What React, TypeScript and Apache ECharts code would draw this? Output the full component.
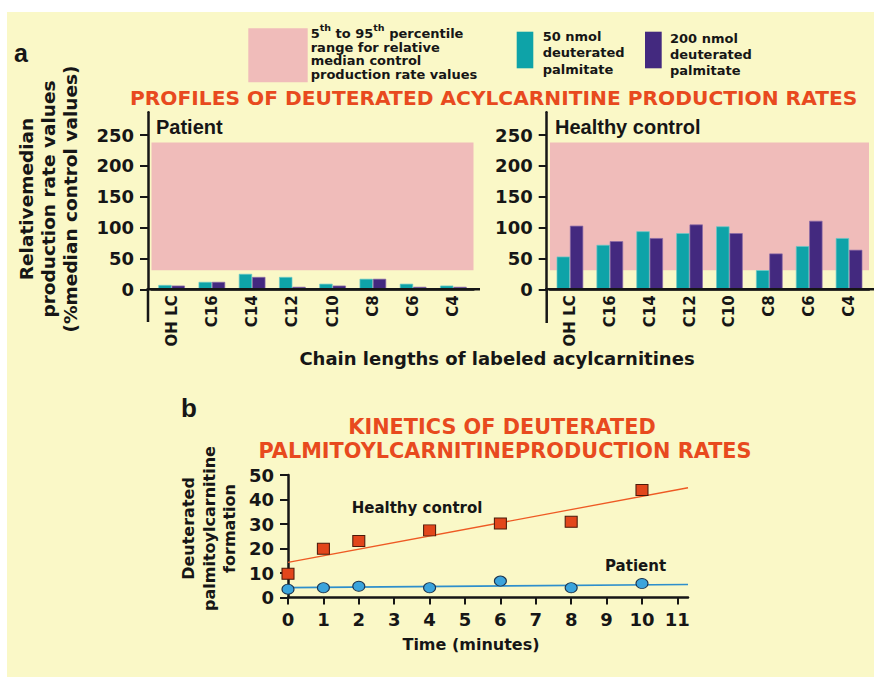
import React, { useEffect, useRef } from "react";
import * as echarts from "echarts";

// ---------- data ----------
const categories = ["OH LC", "C16", "C14", "C12", "C10", "C8", "C6", "C4"];
const patient50 = [7, 12, 25, 20, 9, 17, 9, 6];
const patient200 = [6, 12, 20, 4, 6, 17, 4, 4];
const control50 = [53, 72, 94, 91, 102, 31, 70, 83];
const control200 = [103, 78, 83, 105, 91, 58, 111, 64];
const percentileBand = [31, 238];
const barTicks = [0, 50, 100, 150, 200, 250];

const times = [0, 1, 2, 4, 6, 8, 10];
const controlKinetics = [9.7, 19.9, 23.1, 27.4, 30.2, 30.9, 43.9];
const patientKinetics = [3.4, 4.0, 4.6, 4.0, 6.7, 4.0, 5.7];
const controlFit = [
  [0, 14.3],
  [11.3, 44.8],
];
const patientFit = [
  [0, 4.0],
  [11.3, 5.3],
];
const timeTicks = [0, 1, 2, 3, 4, 5, 6, 7, 8, 9, 10, 11];
const kineticsTicks = [0, 10, 20, 30, 40, 50];

// ---------- styles ----------
const HEAVY = "'DejaVu Sans', 'Liberation Sans', sans-serif";
const SANS = "'Liberation Sans', Arial, sans-serif";
const INK = "#161616";
const ORANGE = "#E84A1E";
const TEAL = "#0EA3A8";
const PURPLE = "#43297F";
const PINK = "#F0BCBA";
const BG = "#FAF8C7";

const heavyText = (size: number) => ({
  fontFamily: HEAVY,
  fontWeight: "bold" as const,
  fontSize: size,
  fill: INK,
});

function txt(x: number, y: number, text: string, style: any, extra: any = {}) {
  return {
    type: "text",
    x,
    y,
    z: 20,
    silent: true,
    ...extra,
    style: {
      text,
      ...style,
      textAlign: style.align || "left",
      textVerticalAlign: style.verticalAlign || "middle",
      align: style.align || "left",
      verticalAlign: style.verticalAlign || "middle",
    },
  };
}

function ln(x1: number, y1: number, x2: number, y2: number, w = 2.5) {
  return {
    type: "line",
    z: 20,
    silent: true,
    shape: { x1, y1, x2, y2 },
    style: { stroke: INK, lineWidth: w },
  };
}

function rect(x: number, y: number, w: number, h: number, fill: string) {
  return {
    type: "rect",
    z: 19,
    silent: true,
    shape: { x, y, width: w, height: h },
    style: { fill },
  };
}

const barYAxis = (gridIndex: number, offset: number) => ({
  type: "value",
  gridIndex,
  min: 0,
  max: 287,
  interval: 50,
  offset,
  axisLine: { show: true, lineStyle: { color: INK, width: 2.5 } },
  axisTick: {
    show: true,
    length: 8,
    customValues: barTicks,
    lineStyle: { color: INK, width: 2 },
  },
  axisLabel: {
    customValues: barTicks,
    margin: 14,
    color: INK,
    fontFamily: HEAVY,
    fontWeight: "bold",
    fontSize: 18,
  },
  splitLine: { show: false },
});

const barXAxis = (gridIndex: number) => ({
  type: "category",
  gridIndex,
  data: categories,
  axisLine: { show: true, lineStyle: { color: INK, width: 2.5 } },
  axisTick: { show: false },
  axisLabel: {
    interval: 0,
    rotate: 90,
    margin: 6,
    color: INK,
    fontFamily: HEAVY,
    fontWeight: "bold",
    fontSize: 15,
  },
});

const barSeries = (idx: number, data: number[], color: string, border: string) => ({
  type: "bar",
  xAxisIndex: idx,
  yAxisIndex: idx,
  data,
  barWidth: 13.3,
  barGap: "0%",
  z: 3,
  itemStyle: { color, borderColor: border, borderWidth: 0.7 },
});

const bandSeries = (idx: number) => ({
  type: "line",
  xAxisIndex: idx,
  yAxisIndex: idx,
  data: [],
  z: 1,
  silent: true,
  markArea: {
    silent: true,
    itemStyle: { color: PINK },
    data: [[{ yAxis: percentileBand[1] }, { yAxis: percentileBand[0] }]],
  },
});

export default function App() {
  const ref = useRef<HTMLDivElement>(null);

  useEffect(() => {
    document.body.style.margin = "0";
    if (!ref.current) return;
    const chart = echarts.init(ref.current, null, { renderer: "svg" });

    const legendText = heavyText(13);

    const option: any = {
      animation: false,
      backgroundColor: BG,
      grid: [
        { left: 151.5, top: 112.2, width: 322, height: 177.1 },
        { left: 550, top: 112.2, width: 319, height: 177.1 },
        { left: 288, top: 475, width: 400, height: 122.5 },
      ],
      xAxis: [
        barXAxis(0),
        barXAxis(1),
        {
          type: "value",
          gridIndex: 2,
          min: 0,
          max: 11.3,
          interval: 1,
          axisLine: { show: true, onZero: false, lineStyle: { color: INK, width: 2.5 } },
          axisTick: {
            show: true,
            length: 7,
            customValues: timeTicks,
            lineStyle: { color: INK, width: 2 },
          },
          axisLabel: {
            customValues: timeTicks,
            margin: 13,
            color: INK,
            fontFamily: HEAVY,
            fontWeight: "bold",
            fontSize: 18,
          },
          splitLine: { show: false },
        },
      ],
      yAxis: [
        barYAxis(0, 3.5),
        barYAxis(1, 3.3),
        {
          type: "value",
          gridIndex: 2,
          min: 0,
          max: 50,
          interval: 10,
          axisLine: { show: true, onZero: false, lineStyle: { color: INK, width: 2.5 } },
          axisTick: {
            show: true,
            length: 8,
            customValues: kineticsTicks,
            lineStyle: { color: INK, width: 2 },
          },
          axisLabel: {
            customValues: kineticsTicks,
            margin: 14,
            color: INK,
            fontFamily: HEAVY,
            fontWeight: "bold",
            fontSize: 18,
          },
          splitLine: { show: false },
        },
      ],
      series: [
        bandSeries(0),
        bandSeries(1),
        barSeries(0, patient50, TEAL, "#6cc9c7"),
        barSeries(0, patient200, PURPLE, "#8a6aa8"),
        barSeries(1, control50, TEAL, "#6cc9c7"),
        barSeries(1, control200, PURPLE, "#8a6aa8"),
        {
          type: "line",
          xAxisIndex: 2,
          yAxisIndex: 2,
          data: controlFit,
          showSymbol: false,
          symbol: "none",
          z: 3,
          lineStyle: { color: "#EE5A24", width: 1.3 },
        },
        {
          type: "line",
          xAxisIndex: 2,
          yAxisIndex: 2,
          data: patientFit,
          showSymbol: false,
          symbol: "none",
          z: 3,
          lineStyle: { color: "#2E8FCC", width: 1.7 },
        },
        {
          type: "scatter",
          xAxisIndex: 2,
          yAxisIndex: 2,
          data: times.map((t, i) => [t, controlKinetics[i]]),
          symbol: "rect",
          symbolSize: [12, 11],
          z: 5,
          itemStyle: { color: "#E2461B", borderColor: "#4a1a0a", borderWidth: 1, opacity: 1 },
        },
        {
          type: "scatter",
          xAxisIndex: 2,
          yAxisIndex: 2,
          data: times.map((t, i) => [t, patientKinetics[i]]),
          symbol: "circle",
          symbolSize: [12, 10],
          z: 5,
          itemStyle: { color: "#3BA4DC", borderColor: "#1c3550", borderWidth: 1, opacity: 1 },
        },
      ],
      graphic: {
        elements: [
          // white page margins
          rect(0, 0, 874, 12, "#ffffff"),
          rect(0, 0, 7, 678, "#ffffff"),
          rect(0, 677, 874, 1, "#ffffff"),
          // panel letters
          txt(14, 53, "a", { fontFamily: SANS, fontWeight: "bold", fontSize: 25, fill: INK }),
          txt(181, 408, "b", { fontFamily: SANS, fontWeight: "bold", fontSize: 26, fill: INK }),
          // legend
          rect(248.3, 28.3, 59.4, 54, PINK),
          {
            type: "text",
            x: 310.7,
            y: 22,
            z: 20,
            silent: true,
            style: {
              text: "{n|5}{s|th}{n| to 95}{s|th}{n| percentile}",
              textAlign: "left",
              align: "left",
              textVerticalAlign: "top",
              verticalAlign: "top",
              rich: {
                n: { ...legendText, lineHeight: 18, verticalAlign: "bottom" },
                s: { ...heavyText(9.5), lineHeight: 10, verticalAlign: "top" },
              },
            },
          },
          txt(310.7, 60.8, "range for relative\nmedian control\nproduction rate values", {
            ...legendText,
            lineHeight: 13.5,
          }),
          rect(516.7, 31.7, 16.6, 36.6, TEAL),
          txt(542.7, 52.5, "50 nmol\ndeuterated\npalmitate", { ...legendText, lineHeight: 16.5 }),
          rect(645, 31.7, 16.7, 36.6, PURPLE),
          txt(670, 54, "200 nmol\ndeuterated\npalmitate", { ...legendText, lineHeight: 16 }),
          // panel a title
          txt(130, 97.5, "PROFILES OF DEUTERATED ACYLCARNITINE PRODUCTION RATES", {
            ...heavyText(20.2),
            fill: ORANGE,
          }),
          // chart labels
          txt(156, 127, "Patient", { fontFamily: SANS, fontWeight: "bold", fontSize: 20, fill: INK }),
          txt(555, 127, "Healthy control", {
            fontFamily: SANS,
            fontWeight: "bold",
            fontSize: 20,
            fill: INK,
          }),
          // axis extensions
          ln(146.75, 289.3, 480, 289.3),
          ln(148, 288, 148, 322),
          ln(545.45, 289.3, 874, 289.3),
          ln(546.7, 288, 546.7, 323),
          // panel a axis titles
          txt(
            48,
            199,
            "Relativemedian\nproduction rate values\n(%median control values)",
            { ...heavyText(18.5), align: "center", lineHeight: 22 },
            { rotation: Math.PI / 2 }
          ),
          txt(497, 358, "Chain lengths of labeled acylcarnitines", {
            ...heavyText(18),
            align: "center",
          }),
          // panel b title
          txt(502, 427, "KINETICS OF DEUTERATED", { ...heavyText(20.8), fill: ORANGE, align: "center" }),
          txt(505, 450.5, "PALMITOYLCARNITINEPRODUCTION RATES", {
            ...heavyText(20.8),
            fill: ORANGE,
            align: "center",
          }),
          // panel b axis titles
          txt(
            209,
            528.5,
            "Deuterated\npalmitoylcarnitine\nformation",
            { ...heavyText(16), align: "center", lineHeight: 20.5 },
            { rotation: Math.PI / 2 }
          ),
          txt(471, 644.5, "Time (minutes)", { ...heavyText(16), align: "center" }),
          // panel b annotations
          txt(351.7, 508, "Healthy control", heavyText(15)),
          txt(605, 566, "Patient", heavyText(15)),
        ],
      },
    };

    chart.setOption(option);
    return () => {
      chart.dispose();
    };
  }, []);

  return <div ref={ref} style={{ width: 874, height: 678 }} />;
}
